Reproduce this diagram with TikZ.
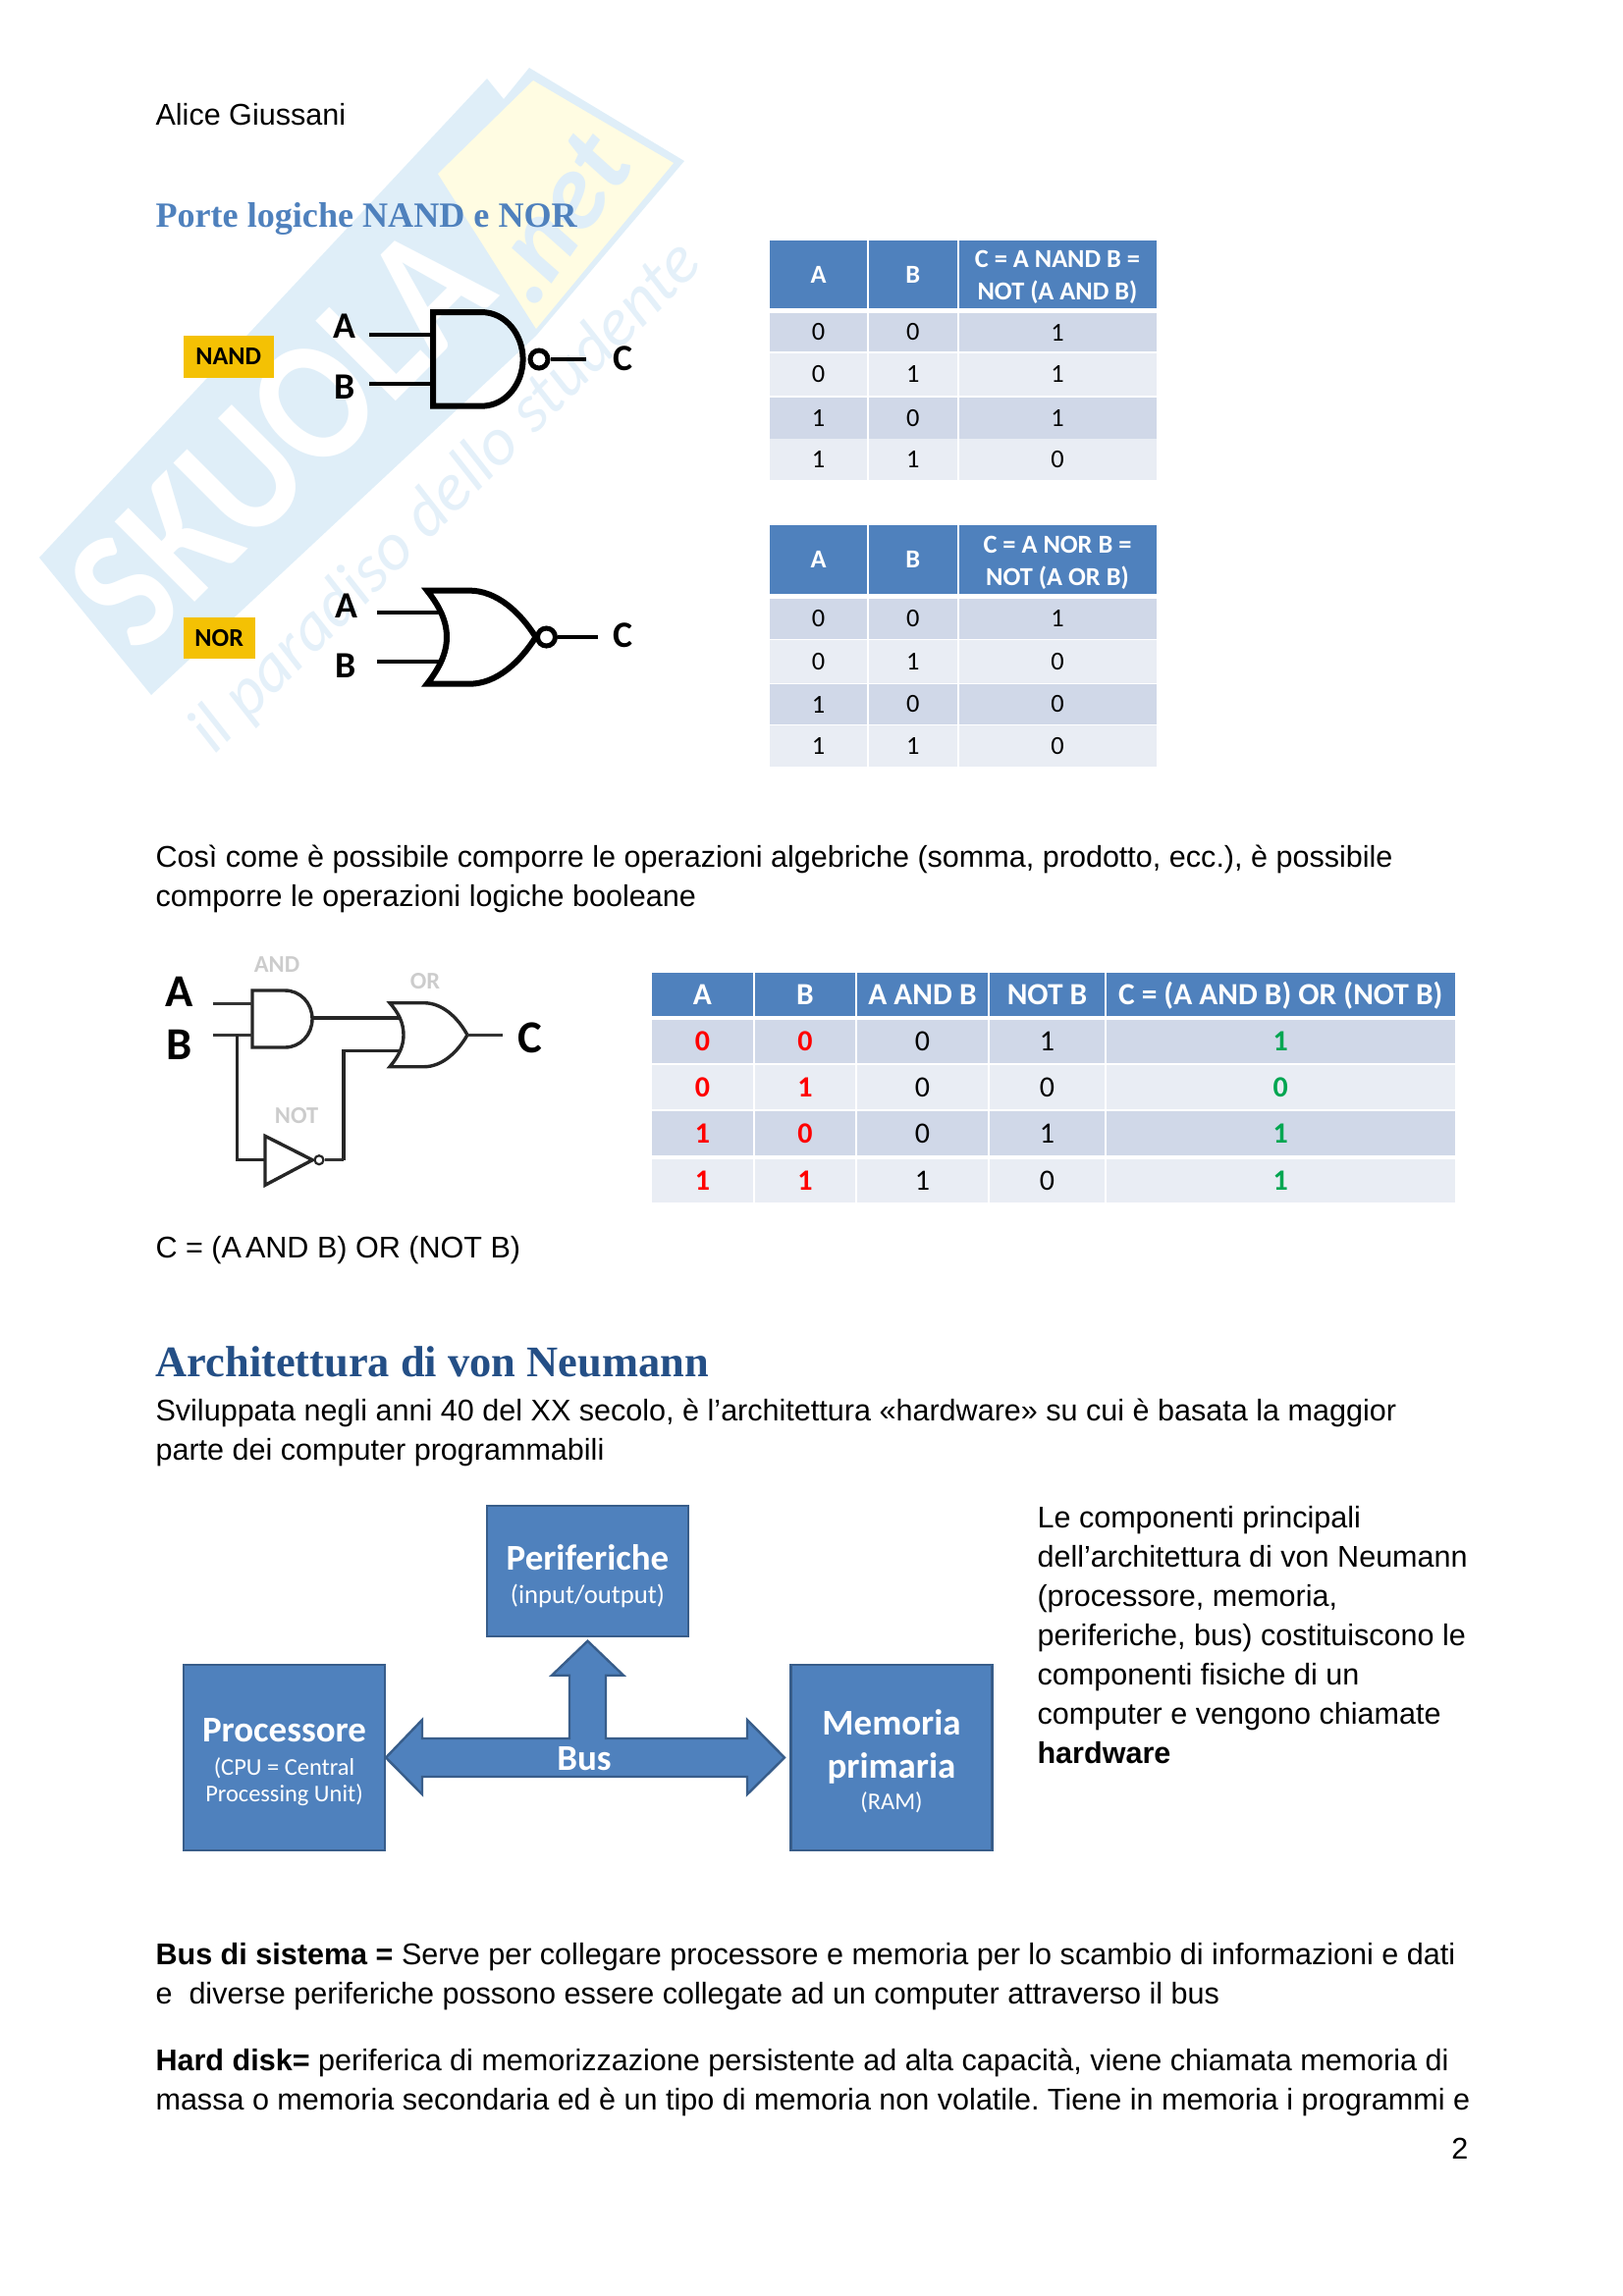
\documentclass[tikz,border=0pt]{standalone}
\usepackage{fontspec}
\usepackage{xcolor}
\usetikzlibrary{positioning}
\setmainfont{Liberation Sans}
\newfontfamily\serifface{Liberation Serif}
\newfontfamily\carlito{Carlito}
\frenchspacing
\definecolor{hdrblue}{HTML}{4F81BD}
\definecolor{rowdark}{HTML}{D0D8E8}
\definecolor{rowlight}{HTML}{E9EDF4}
\definecolor{boxedge}{HTML}{385D8A}
\definecolor{wmblue}{HTML}{DFEEF8}
\definecolor{wmyellow}{HTML}{FFFCE2}
\definecolor{tagyellow}{HTML}{F4C104}
\definecolor{titleblue}{HTML}{244F86}
\definecolor{okgreen}{HTML}{00A651}
\def\un{0.36pt}
\def\gap{0.72pt}
\tikzset{
  bodytxt/.style ={anchor=base west, inner sep=0pt, font=\fontsize{11}{14}\selectfont},
  cell/.style    ={rectangle, inner sep=0pt, outer sep=0pt, align=center, text=black,
                   font=\carlito\fontsize{9.5}{11.6}\selectfont},
  hdrcell/.style ={cell, fill=hdrblue, text=white,
                   font=\carlito\bfseries\fontsize{9.5}{11.9}\selectfont},
  widecell/.style={cell, font=\carlito\fontsize{10.8}{13}\selectfont, text height=7pt, text depth=0pt},
  widebold/.style={widecell, font=\carlito\bfseries\fontsize{10.8}{13}\selectfont},
  widehdr/.style ={hdrcell, font=\carlito\bfseries\fontsize{11.3}{13}\selectfont, text height=9.5pt, text depth=1.5pt},
  tag/.style     ={rectangle, fill=tagyellow, inner sep=0pt, text=black,
                   font=\carlito\bfseries\fontsize{9.4}{11}\selectfont},
  pinlbl/.style  ={inner sep=0pt, font=\carlito\bfseries\fontsize{13.6}{15}\selectfont},
  pinbig/.style  ={inner sep=0pt, font=\carlito\bfseries\fontsize{16.8}{18}\selectfont},
  greylbl/.style ={inner sep=0pt, text=black!20, font=\carlito\bfseries\fontsize{8.8}{10}\selectfont},
  gate/.style    ={draw=black, line width=6*\un, line join=miter},
  wire/.style    ={draw=black, line width=3.4*\un},
  bubble/.style  ={circle, draw=black, line width=5*\un, inner sep=0pt, minimum size=18*\un},
  smallgate/.style ={draw=black!85, line width=3.4*\un},
  smallwire/.style ={draw=black!80, line width=2.6*\un},
  hwbox/.style   ={rectangle, fill=hdrblue, draw=boxedge, line width=2.4*\un, text=white,
                   align=center, inner sep=0pt, font=\carlito\fontsize{8.8}{10.3}\selectfont}
}
\newcommand{\hwname}[1]{{\bfseries\fontsize{13.3}{10.3}\selectfont #1}}
\begin{document}
\begin{tikzpicture}[x=\un, y=-\un]
\useasboundingbox (0,0) rectangle (1653,2339);

% Watermark
\fill[wmblue] (40,568) -- (496,80) -- (513,101) -- (539,69) -- (697,164) -- (546,342) -- (154,708) -- cycle;
\fill[wmyellow] (543,82) -- (686,166) -- (546,335) -- (446,177) -- cycle;
\node[rotate=45, xscale=0.87, inner sep=0pt, text=white, font=\carlito\bfseries\fontsize{64}{64}\selectfont] (wmname) at (285,445) {SKUOLA};
\node[rotate=55, inner sep=0pt, text=wmblue, font=\carlito\bfseries\itshape\fontsize{40}{40}\selectfont] (wmnet) at (567,222) {.net};
\node[rotate=45, inner sep=0pt, text=wmblue!85, font=\carlito\itshape\fontsize{25}{25}\selectfont] (wmslogan) at (455,507) {il paradiso dello studente};

% Page text
\node[bodytxt] (author) at (158,127.5) {Alice Giussani};
\node[bodytxt, text=hdrblue, font=\serifface\bfseries\fontsize{13}{16}\selectfont] (title1) at (158,231.5) {Porte logiche NAND e NOR};
\foreach \y/\n/\t in {
  883.5/par1/{Così come è possibile comporre le operazioni algebriche (somma, prodotto, ecc.), è possibile},
  923.5/par2/{comporre le operazioni logiche booleane},
  1281.5/formula/{C = (A\kern-1.6pt\ AND B) OR (NOT B)},
  1447.5/par3/{Sviluppata negli anni 40 del XX secolo, è l’architettura «hardware» su cui è basata la maggior},
  1487.5/par4/{parte dei computer programmabili},
  2001.5/par5/{\textbf{Bus di sistema =} Serve per collegare processore e memoria per lo scambio di informazioni e dati},
  2041.5/par6/{e\ \ diverse periferiche possono essere collegate ad un computer attraverso il bus},
  2109.5/par7/{\textbf{Hard disk=} periferica di memorizzazione persistente ad alta capacità, viene chiamata memoria di},
  2149.5/par8/{massa o memoria secondaria ed è un tipo di memoria non volatile. Tiene in memoria i programmi e}
}{
  \node[bodytxt] (\n) at (158,\y) {\t};
}
\node[bodytxt, text=titleblue, font=\serifface\bfseries\fontsize{16}{18}\selectfont] (title2) at (158,1402) {Architettura di von Neumann};
% Right column
\foreach \y/\n/\t in {
  1556/side1/{Le componenti principali},
  1596/side2/{dell’architettura di von Neumann},
  1636/side3/{(processore, memoria,},
  1676/side4/{periferiche, bus) costituiscono le},
  1716.5/side5/{componenti fisiche di un},
  1756.5/side6/{computer e vengono chiamate},
  1796.5/side7/{\textbf{hardware}}
}{
  \node[bodytxt] (\n) at (1056,\y) {\t};
}
\node[bodytxt, anchor=base east] (pagenum) at (1496,2199.5) {2};

% NAND gate
\node[tag, minimum width=92*\un, minimum height=42.6*\un] (nandtag) at (232.7,363.3) {NAND};
\node[pinlbl] (nandA) at (351,332.5) {A};
\node[pinlbl] (nandB) at (351,394) {B};
\node[pinlbl] (nandC) at (634,365) {C};
\coordinate (nandinA) at (376,341);
\coordinate (nandinB) at (376,391);
\coordinate (nandbodyA) at (441,341);
\coordinate (nandbodyB) at (441,391);
\coordinate (nandout) at (597,366);
\draw[gate] (441,318) -- (490,318) .. controls (516,318) and (532.6,342) .. (532.6,366)
  .. controls (532.6,390) and (516,413.7) .. (490,413.7) -- (441,413.7) -- cycle;
\node[bubble] (nandbub) at (549,366) {};
\draw[wire] (nandinA) -- (nandbodyA);
\draw[wire] (nandinB) -- (nandbodyB);
\draw[wire] (nandbub.east) -- (nandout);

% NOR gate
\node[tag, minimum width=73*\un, minimum height=42.5*\un] (nortag) at (223.2,649.8) {NOR};
\node[pinlbl] (norA) at (353,617.7) {A};
\node[pinlbl] (norB) at (351.6,678.5) {B};
\node[pinlbl] (norC) at (634,647) {C};
\coordinate (norinA) at (384,624);
\coordinate (norinB) at (384,674);
\coordinate (norbodyA) at (450,624);
\coordinate (norbodyB) at (450,674);
\coordinate (norout) at (608.5,649);
\draw[gate] (435,601.6) -- (478,601.6) .. controls (506,601.6) and (530,624) .. (545.6,649)
  .. controls (530,674) and (506,696.7) .. (478,696.7) -- (435,696.7)
  .. controls (448,680) and (455,665) .. (455,649) .. controls (455,633) and (448,618) .. (435,601.6) -- cycle;
\node[bubble] (norbub) at (556.5,649) {};
\draw[wire] (norinA) -- (norbodyA);
\draw[wire] (norinB) -- (norbodyB);
\draw[wire] (norbub.east) -- (norout);

% Truth tables NAND and NOR
\foreach \r/\y/\h/\fc/\a/\b/\c in {
  1/338.5/39.4/rowdark/0/0/1, 2/381.4/42.8/rowlight/0/1/1,
  3/425.6/42/rowdark/1/0/1, 4/468.3/42/rowlight/1/1/0}{
  \node[cell, fill=\fc, minimum width=99*\un, minimum height=\h*\un] (nand\r a) at (833.5,\y) {\a};
  \node[cell, fill=\fc, minimum width=89.5*\un, minimum height=\h*\un, right=\gap of nand\r a] (nand\r b) {\b};
  \node[cell, fill=\fc, minimum width=201*\un, minimum height=\h*\un, right=\gap of nand\r b] (nand\r c) {\c};
}
\node[hdrcell, minimum width=99*\un, minimum height=68.7*\un] (nandhA) at (833.5,279.6) {A};
\node[hdrcell, minimum width=89.5*\un, minimum height=68.7*\un, right=\gap of nandhA] (nandhB) {B};
\node[hdrcell, minimum width=201*\un, minimum height=68.7*\un, right=\gap of nandhB] (nandhC) {\rule{0pt}{8.2pt}C = A NAND B =\\NOT (A AND B)};
\foreach \r/\y/\h/\fc/\a/\b/\c in {
  1/630.2/40.6/rowdark/0/0/1, 2/674.2/43.9/rowlight/0/1/0,
  3/717.5/40.5/rowdark/1/0/0, 4/759.9/42/rowlight/1/1/0}{
  \node[cell, fill=\fc, minimum width=99*\un, minimum height=\h*\un] (nor\r a) at (833.5,\y) {\a};
  \node[cell, fill=\fc, minimum width=89.5*\un, minimum height=\h*\un, right=\gap of nor\r a] (nor\r b) {\b};
  \node[cell, fill=\fc, minimum width=201*\un, minimum height=\h*\un, right=\gap of nor\r b] (nor\r c) {\c};
}
\node[hdrcell, minimum width=99*\un, minimum height=70.6*\un] (norhA) at (833.5,569.8) {A};
\node[hdrcell, minimum width=89.5*\un, minimum height=70.6*\un, right=\gap of norhA] (norhB) {B};
\node[hdrcell, minimum width=201*\un, minimum height=70.6*\un, right=\gap of norhB] (norhC) {\rule{0pt}{8.8pt}C = A NOR B =\\NOT (A OR B)};

% Composed circuit
\node[pinbig] (compA) at (183,1010) {A};
\node[pinbig] (compB) at (183,1064) {B};
\node[pinbig] (compC) at (540,1057) {C};
\node[greylbl] (andlbl) at (282,983) {AND};
\node[greylbl] (orlbl) at (433,1000) {OR};
\node[greylbl] (notlbl) at (302,1137) {NOT};
\coordinate (inA) at (217,1022.7);
\coordinate (inB) at (217,1054.3);
\coordinate (andA) at (257,1022.7);
\coordinate (andB) at (257,1054.3);
\coordinate (andout) at (318,1037);
\coordinate (orup) at (407,1037);
\coordinate (orlow) at (407,1070.7);
\coordinate (orout) at (476,1054.3);
\coordinate (outC) at (512,1054.3);
\coordinate (split) at (241.7,1054.3);
\coordinate (notin) at (270,1181.7);
\coordinate (notlowturn) at (241.7,1181.7);
\coordinate (notturn) at (350,1181.7);
\coordinate (orturn) at (350,1070.7);
\draw[smallgate] (257,1009) -- (290,1009) .. controls (306,1009) and (318,1022) .. (318,1038)
  .. controls (318,1054) and (306,1067) .. (290,1067) -- (257,1067) -- cycle;
\draw[smallgate] (397,1021.7) -- (432,1021.7) .. controls (450,1021.7) and (466,1036) .. (476,1054.3)
  .. controls (466,1072) and (450,1086.7) .. (432,1086.7) -- (397,1086.7)
  .. controls (406,1076) and (411,1066) .. (411,1054.3) .. controls (411,1042) and (406,1032) .. (397,1021.7) -- cycle;
\draw[smallgate] (270,1157.3) -- (318.3,1181.7) -- (270,1207.3) -- cycle;
\node[circle, draw=black!85, line width=2.2*\un, inner sep=0pt, minimum size=9*\un] (notbub) at (325,1181.7) {};
\draw[smallwire] (inA) -- (andA);
\draw[smallwire] (inB) -- (andB);
\draw[smallgate] (andout) -- (orup);
\draw[smallgate] (split) -- (notlowturn) -- (notin);
\draw[smallwire] (notbub.east) -- (notturn);
\draw[smallgate] (notturn) -- (orturn) -- (orlow);
\draw[smallwire] (orout) -- (outC);

% Truth table of the composition
\foreach \r/\y/\h/\fc/\a/\b/\c/\d/\e in {
  1/1061/43.4/rowdark/0/0/0/1/1, 2/1107.5/45/rowlight/0/1/0/0/0,
  3/1154.7/45.3/rowdark/1/0/0/1/1, 4/1202.8/44.3/rowlight/1/1/1/0/1}{
  \node[widebold, fill=\fc, text=red, minimum width=103*\un, minimum height=\h*\un] (tab\r a) at (715.5,\y) {\a};
  \node[widebold, fill=\fc, text=red, minimum width=102*\un, minimum height=\h*\un, right=\gap of tab\r a] (tab\r b) {\b};
  \node[widecell, fill=\fc, minimum width=133*\un, minimum height=\h*\un, right=\gap of tab\r b] (tab\r c) {\c};
  \node[widecell, fill=\fc, minimum width=117*\un, minimum height=\h*\un, right=\gap of tab\r c] (tab\r d) {\d};
  \node[widebold, fill=\fc, text=okgreen, minimum width=354.5*\un, minimum height=\h*\un, right=\gap of tab\r d] (tab\r e) {\e};
}
\node[widehdr, minimum width=103*\un, minimum height=43.7*\un] (tabhA) at (715.5,1012.8) {A};
\node[widehdr, minimum width=102*\un, minimum height=43.7*\un, right=\gap of tabhA] (tabhB) {B};
\node[widehdr, minimum width=133*\un, minimum height=43.7*\un, right=\gap of tabhB] (tabhAB) {A AND B};
\node[widehdr, minimum width=117*\un, minimum height=43.7*\un, right=\gap of tabhAB] (tabhNB) {NOT B};
\node[widehdr, minimum width=354.5*\un, minimum height=43.7*\un, right=\gap of tabhNB] (tabhC) {C = (A AND B) OR (NOT B)};

% Von Neumann blocks
\draw[fill=hdrblue, draw=boxedge, line width=2.4*\un, line join=miter]
  (393,1790.5) -- (430,1752) -- (430,1771) -- (580,1771) -- (580,1706.7) -- (562,1706.7)
  -- (598.5,1671.7) -- (635,1706.7) -- (617,1706.7) -- (617,1771) -- (761,1771) -- (761,1752)
  -- (799,1790.5) -- (761,1828) -- (761,1810) -- (430,1810) -- (430,1828) -- cycle;
\node[text=white, inner sep=0pt, font=\carlito\bfseries\fontsize{13.3}{14}\selectfont] (bus) at (595,1792) {Bus};
\node[hwbox, minimum width=205*\un, minimum height=133*\un] (periph) at (598.5,1600.3)
  {\hwname{\rule{0pt}{13pt}Periferiche}\\[2pt]{\fontsize{9.6}{10.3}\selectfont (input/output)}};
\node[hwbox, minimum width=205*\un, minimum height=189*\un] (cpu) at (289.5,1790.5)
  {\hwname{\rule{0pt}{12.2pt}Processore}\\[1.8pt](CPU = Central\\[-0.4pt]Processing Unit)};
\node[hwbox, minimum width=205*\un, minimum height=189*\un] (ram) at (908,1790.5)
  {\hwname{\rule{0pt}{12.2pt}Memoria}\\[5.4pt]\hwname{primaria}\\[1.4pt](RAM)};
\end{tikzpicture}
\end{document}
